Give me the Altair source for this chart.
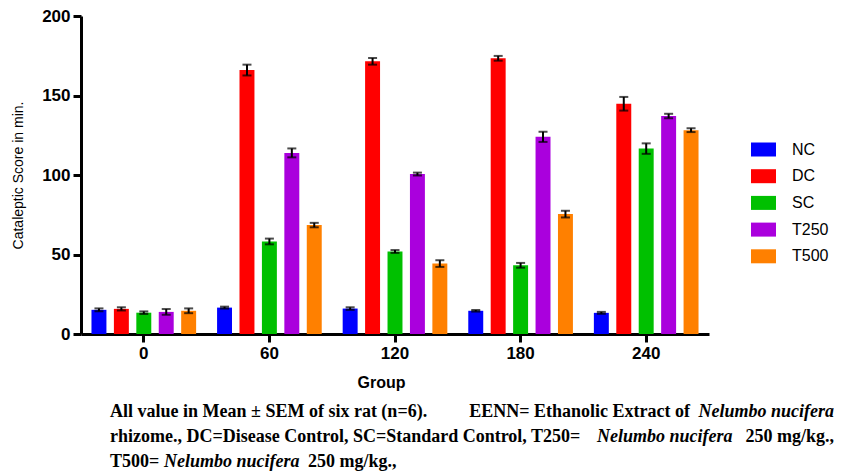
import altair as alt
import pandas as pd

groups = ["0", "60", "120", "180", "240"]
series = ["NC", "DC", "SC", "T250", "T500"]
colors = ["#0000FF", "#FF0000", "#00C000", "#AA00DD", "#FF8000"]

means = {
    "NC":   [15.2, 16.6, 16.0, 14.6, 13.3],
    "DC":   [15.8, 166.0, 171.5, 173.4, 144.8],
    "SC":   [13.4, 58.2, 51.9, 43.2, 116.6],
    "T250": [13.9, 113.9, 100.6, 124.0, 137.1],
    "T500": [14.6, 68.5, 44.3, 75.4, 128.2],
}
sems = {
    "NC":   [0.9, 0.6, 0.8, 0.5, 0.6],
    "DC":   [1.0, 3.4, 2.1, 1.5, 4.3],
    "SC":   [0.8, 1.8, 0.9, 1.5, 3.3],
    "T250": [1.8, 2.8, 0.9, 3.2, 1.4],
    "T500": [1.5, 1.4, 2.1, 2.1, 1.2],
}

rows = []
for s in series:
    for g, m, e in zip(groups, means[s], sems[s]):
        rows.append({"Group": g, "Series": s, "mean": m, "lo": m - e, "hi": m + e})
df = pd.DataFrame(rows)

FONT = "Liberation Sans"
SERIF = "Liberation Serif"

x_enc = alt.X("Group:N", sort=groups,
              scale=alt.Scale(paddingInner=0, paddingOuter=0),
              axis=alt.Axis(title="Group", labelAngle=0, labelFont=FONT, labelFontSize=17,
                            labelFontWeight="bold", labelColor="black", labelPadding=3,
                            titleFont=FONT, titleFontSize=16, titleFontWeight="bold",
                            titleColor="black", titleX=300, titleY=53, titleBaseline="alphabetic",
                            domainColor="black", domainWidth=3, tickColor="black",
                            tickWidth=3, tickSize=8, grid=False))
xo_enc = alt.XOffset("Series:N", sort=series,
                     scale=alt.Scale(paddingInner=0.333, paddingOuter=0.467))

y_scale = alt.Scale(domain=[0, 200], nice=False)

bars = alt.Chart(df).mark_bar().encode(
    x=x_enc,
    xOffset=xo_enc,
    y=alt.Y("mean:Q", scale=y_scale,
            axis=alt.Axis(title="Cataleptic Score in min.", values=[0, 50, 100, 150, 200],
                          labelFont=FONT, labelFontSize=17, labelFontWeight="bold",
                          labelColor="black", labelPadding=3,
                          titleFont=FONT, titleFontSize=14, titleFontWeight="normal",
                          titleColor="black", titleX=-63, titleY=159, titleAlign="center",
                          titleBaseline="middle", titleAngle=-90,
                          domainColor="black", domainWidth=3, tickColor="black",
                          tickWidth=3, tickSize=8, grid=False)),
    color=alt.Color("Series:N", sort=series,
                    scale=alt.Scale(domain=series, range=colors),
                    legend=alt.Legend(title=None, orient="none", legendX=670, legendY=121,
                                      symbolType="M-1,-0.56L1,-0.56L1,0.56L-1,0.56Z",
                                      symbolSize=625, symbolStrokeWidth=0,
                                      labelFont=FONT, labelFontSize=16, labelColor="black",
                                      labelOffset=16, rowPadding=5.7, padding=0)),
)

err = alt.Chart(df).mark_rule(color="black", strokeWidth=2).encode(
    x=alt.X("Group:N", sort=groups), xOffset=alt.XOffset("Series:N", sort=series),
    y=alt.Y("lo:Q", scale=y_scale), y2="hi:Q")
cap_lo = alt.Chart(df).mark_tick(color="black", thickness=2, size=9).encode(
    x=alt.X("Group:N", sort=groups), xOffset=alt.XOffset("Series:N", sort=series),
    y=alt.Y("lo:Q", scale=y_scale))
cap_hi = alt.Chart(df).mark_tick(color="black", thickness=2, size=9).encode(
    x=alt.X("Group:N", sort=groups), xOffset=alt.XOffset("Series:N", sort=series),
    y=alt.Y("hi:Q", scale=y_scale))

caption_segments = [
    ("All value in Mean \u00b1 SEM of six rat (n=6).", "normal", 29, 401, "left"),
    ("EENN= Ethanolic Extract of", "normal", 609, 401, "right"),
    ("Nelumbo nucifera", "italic", 753, 401, "right"),
    ("rhizome., DC=Disease Control, SC=Standard Control, T250=", "normal", 29, 426, "left"),
    ("Nelumbo nucifera", "italic", 516, 426, "left"),
    ("250 mg/kg.,", "normal", 753, 426, "right"),
    ("T500=", "normal", 29, 451, "left"),
    ("Nelumbo nucifera", "italic", 83, 451, "left"),
    ("250 mg/kg.,", "normal", 227, 451, "left"),
]
captions = []
for txt, style, cx, cy, al in caption_segments:
    captions.append(
        alt.Chart(pd.DataFrame({"t": [txt]})).mark_text(
            font=SERIF, fontSize=18, fontWeight="bold", fontStyle=style,
            align=al, baseline="alphabetic", color="black"
        ).encode(text="t:N", x=alt.value(cx), y=alt.value(cy))
    )

chart = alt.layer(bars, err, cap_lo, cap_hi, *captions).properties(
    width=628, height=318,
    background="white",
    autosize=alt.AutoSizeParams(type="none"),
    padding={"left": 73, "top": 8, "right": 125, "bottom": 142},
).configure_view(strokeWidth=0, stroke=None)

chart.save("out.html", embed_options={"renderer": "svg", "actions": False})
